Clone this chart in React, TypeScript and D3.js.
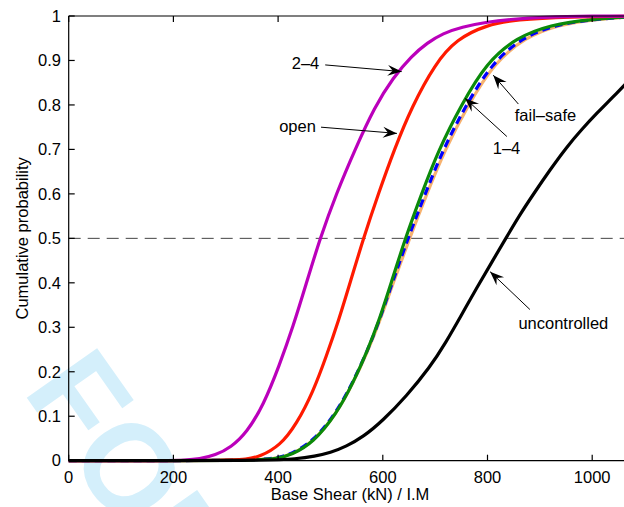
import React, { useEffect, useRef } from 'react';
import * as d3 from 'd3';

type Pt = [number, number];

// curves: [base shear, cumulative probability]
const seriesTwoFour: Pt[] = [
  [0, 0], [200, 0], [220, 0.001], [250, 0.004], [280, 0.012], [310, 0.03], [340, 0.063],
  [372, 0.125], [402, 0.213], [429, 0.303], [453, 0.395], [480, 0.5], [512, 0.603], [547, 0.7],
  [584, 0.795], [620, 0.862], [655, 0.91], [685, 0.94], [715, 0.961], [750, 0.975], [800, 0.987],
  [850, 0.993], [900, 0.997], [1000, 1], [1100, 1],
];
const seriesOpen: Pt[] = [
  [0, 0], [300, 0], [340, 0.003], [365, 0.009], [404, 0.034], [435, 0.082], [467, 0.155],
  [493, 0.238], [515, 0.313], [538, 0.402], [563, 0.5], [592, 0.602], [622, 0.7], [655, 0.795],
  [700, 0.893], [741, 0.948], [798, 0.98], [856, 0.992], [950, 0.998], [1100, 1],
];
const seriesFailSafe: Pt[] = [
  [0, 0], [350, 0], [400, 0.005], [425, 0.014], [467, 0.041], [512, 0.106], [544, 0.176],
  [570, 0.243], [593, 0.31], [620, 0.4], [651, 0.5], [684, 0.6], [719, 0.7], [763, 0.8],
  [813, 0.895], [872, 0.952], [935, 0.98], [1005, 0.993], [1100, 1],
];
const seriesBlue: Pt[] = [
  [0, 0], [350, 0], [400, 0.006], [425, 0.015], [467, 0.043], [512, 0.109], [544, 0.179],
  [570, 0.246], [592, 0.31], [618, 0.4], [648, 0.5], [681, 0.6], [715, 0.7], [759, 0.8],
  [809, 0.895], [867, 0.952], [930, 0.98], [1000, 0.993], [1100, 1],
];
const seriesOneFour: Pt[] = [
  [0, 0], [350, 0], [400, 0.005], [425, 0.013], [467, 0.04], [512, 0.106], [544, 0.177],
  [570, 0.246], [592, 0.312], [616, 0.4], [643, 0.5], [674, 0.6], [707, 0.7], [750, 0.8],
  [798, 0.895], [856, 0.952], [920, 0.98], [995, 0.993], [1100, 1],
];
const seriesUncontrolled: Pt[] = [
  [0, 0], [380, 0], [435, 0.004], [470, 0.01], [500, 0.018], [530, 0.032], [563, 0.054],
  [600, 0.09], [645, 0.145], [690, 0.21], [720, 0.265], [750, 0.327], [780, 0.39], [810, 0.45],
  [835, 0.5], [860, 0.55], [888, 0.6], [920, 0.655], [951, 0.705], [980, 0.745], [1010, 0.783],
  [1040, 0.818], [1060, 0.843], [1100, 0.89],
];

const xTicks = [0, 200, 400, 600, 800, 1000];
const yTicks = [0, 0.1, 0.2, 0.3, 0.4, 0.5, 0.6, 0.7, 0.8, 0.9, 1];

// label: text anchor, arrow start, arrow tip (data units)
const labels = [
  { text: '2\u20134', at: [426, 0.88], from: [490, 0.89], to: [636, 0.875] },
  { text: 'open', at: [402, 0.74], from: [482, 0.75], to: [627, 0.736] },
  { text: 'fail\u2013safe', at: [852, 0.765], from: [859, 0.802], to: [811, 0.867] },
  { text: '1\u20134', at: [810, 0.69], from: [837, 0.729], to: [757, 0.815] },
  { text: 'uncontrolled', at: [859, 0.296], from: [881, 0.34], to: [805, 0.425] },
];

const W = 624;
const H = 507;
const FONT = '"Liberation Sans", Arial, sans-serif';

const App: React.FC = () => {
  const svgRef = useRef<SVGSVGElement>(null);

  useEffect(() => {
    if (!svgRef.current) return;
    const svg = d3.select(svgRef.current);
    svg.selectAll('*').remove();

    const x = d3.scaleLinear().domain([0, 1100]).range([68.7, 68.7 + 1100 * 0.5235]);
    const y = d3.scaleLinear().domain([0, 1]).range([460.7, 16]);

    // watermark
    svg.append('text')
      .attr('transform', 'translate(22,391) rotate(54.8)')
      .attr('font-family', FONT)
      .attr('font-weight', 'bold')
      .attr('font-size', 125)
      .attr('fill', '#d4effb')
      .text('FOR PEER REVIEW');

    // 0.5 reference line
    svg.append('line')
      .attr('x1', x(0)).attr('x2', W)
      .attr('y1', y(0.5)).attr('y2', y(0.5))
      .attr('stroke', '#444')
      .attr('stroke-width', 1)
      .attr('stroke-dasharray', '12,7');

    const line = d3.line<Pt>()
      .x(d => x(d[0]))
      .y(d => y(d[1]))
      .curve(d3.curveBasis);

    const curves = [
      { data: seriesFailSafe, color: '#f7b26f', dash: null },
      { data: seriesBlue, color: '#0000ff', dash: '8,5' },
      { data: seriesOneFour, color: '#0a8a0a', dash: null },
      { data: seriesOpen, color: '#ff1a00', dash: null },
      { data: seriesTwoFour, color: '#bb00bb', dash: null },
      { data: seriesUncontrolled, color: '#000', dash: null },
    ];

    curves.forEach(c => {
      svg.append('path')
        .attr('d', line(c.data) || '')
        .attr('fill', 'none')
        .attr('stroke', c.color)
        .attr('stroke-width', 3.2)
        .attr('stroke-linejoin', 'round')
        .attr('stroke-dasharray', c.dash);
    });

    // axes box (left, top, bottom)
    const axisG = svg.append('g').attr('stroke', '#000').attr('stroke-width', 1.2);
    axisG.append('line').attr('x1', x(0)).attr('x2', x(0)).attr('y1', y(1)).attr('y2', y(0));
    axisG.append('line').attr('x1', x(0)).attr('x2', W).attr('y1', y(1)).attr('y2', y(1));
    axisG.append('line').attr('x1', x(0)).attr('x2', W).attr('y1', y(0)).attr('y2', y(0));

    xTicks.forEach(t => {
      axisG.append('line').attr('x1', x(t)).attr('x2', x(t)).attr('y1', y(0)).attr('y2', y(0) - 6);
      axisG.append('line').attr('x1', x(t)).attr('x2', x(t)).attr('y1', y(1)).attr('y2', y(1) + 6);
    });
    yTicks.forEach(t => {
      axisG.append('line').attr('x1', x(0)).attr('x2', x(0) + 6).attr('y1', y(t)).attr('y2', y(t));
    });

    const txt = svg.append('g').attr('font-family', FONT).attr('font-size', 16.5).attr('fill', '#000');

    xTicks.forEach(t => {
      txt.append('text')
        .attr('x', x(t)).attr('y', 482.5)
        .attr('text-anchor', 'middle')
        .text(String(t));
    });
    yTicks.forEach(t => {
      txt.append('text')
        .attr('x', 61).attr('y', y(t))
        .attr('dy', '0.35em')
        .attr('text-anchor', 'end')
        .text(String(Math.round(t * 10) / 10));
    });

    txt.append('text')
      .attr('x', 350).attr('y', 500)
      .attr('font-size', 16.5)
      .attr('text-anchor', 'middle')
      .text('Base Shear (kN) / I.M');
    txt.append('text')
      .attr('transform', `translate(28,${y(0.5)}) rotate(-90)`)
      .attr('text-anchor', 'middle')
      .text('Cumulative probability');

    // annotations
    labels.forEach(l => {
      txt.append('text')
        .attr('x', x(l.at[0])).attr('y', y(l.at[1]))
        .text(l.text);
      const x1 = x(l.from[0]), y1 = y(l.from[1]);
      const x2 = x(l.to[0]), y2 = y(l.to[1]);
      const ang = Math.atan2(y2 - y1, x2 - x1) * 180 / Math.PI;
      svg.append('line')
        .attr('x1', x1).attr('y1', y1).attr('x2', x2).attr('y2', y2)
        .attr('stroke', '#000').attr('stroke-width', 1);
      svg.append('path')
        .attr('transform', `translate(${x2},${y2}) rotate(${ang})`)
        .attr('d', 'M0,0 L-14,-5.5 L-9,0 L-14,5.5 Z')
        .attr('fill', '#000');
    });
  }, []);

  return (
    <div style={{ position: 'absolute', left: 0, top: 0, width: W, height: H, background: '#fff' }}>
      <svg ref={svgRef} width={W} height={H} style={{ display: 'block' }} />
    </div>
  );
};

export default App;
